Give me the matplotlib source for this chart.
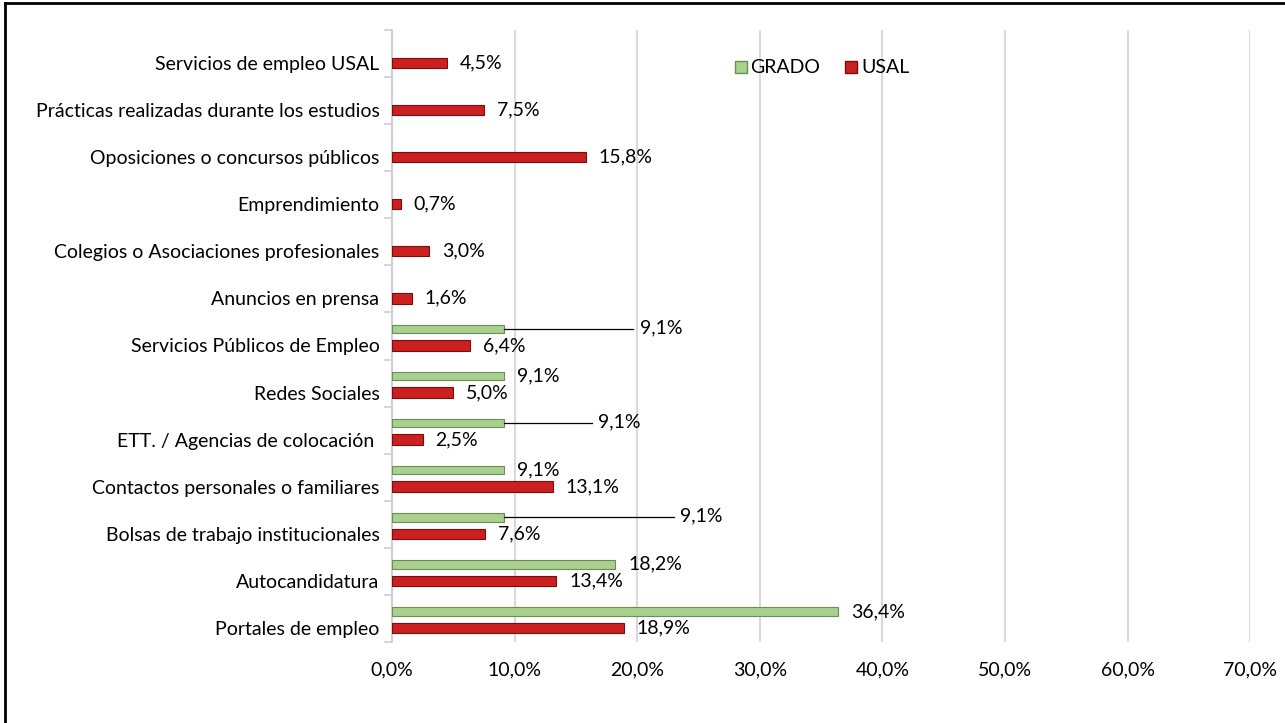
import matplotlib.pyplot as plt
import numpy as np
from matplotlib.lines import Line2D

plt.rcParams['font.family'] = ['Lato', 'DejaVu Sans']

categories = ["Servicios de empleo USAL", "Prácticas realizadas durante los estudios",
              "Oposiciones o concursos públicos", "Emprendimiento",
              "Colegios o Asociaciones profesionales", "Anuncios en prensa",
              "Servicios Públicos de Empleo", "Redes Sociales",
              "ETT. / Agencias de colocación ", "Contactos personales o familiares",
              "Bolsas de trabajo institucionales", "Autocandidatura", "Portales de empleo"]
usal = [4.5, 7.5, 15.8, 0.7, 3.0, 1.6, 6.4, 5.0, 2.5, 13.1, 7.6, 13.4, 18.9]
grado = [0, 0, 0, 0, 0, 0, 9.1, 9.1, 9.1, 9.1, 9.1, 18.2, 36.4]
xticks = [0, 10, 20, 30, 40, 50, 60, 70]

# label positions (in % units) for green labels that use a leader line
leader_x = {6: 20.2, 8: 16.8, 10: 23.5}

fig = plt.figure(figsize=(12.85, 7.23), dpi=100)
ax = fig.add_axes([0.305, 0.112, 0.668, 0.8465])

y = np.arange(len(categories))
y_g = y - 0.15
y_r = y + 0.2
ax.barh(y_r, usal, height=0.22, color='#cc2020', edgecolor='#7a0c0c', linewidth=0.8, zorder=3)
mask = np.array(grado) > 0
ax.barh(y_g[mask], np.array(grado)[mask], height=0.18, color='#a9d08e',
        edgecolor='#6a8f50', linewidth=0.8, zorder=3)

fs = 14
for i, v in enumerate(usal):
    ax.annotate(f"{v:.1f}".replace('.', ',') + '%', (v, y_r[i]), xytext=(13, 0),
                textcoords='offset pixels', va='center', ha='left', fontsize=fs)
for i, v in enumerate(grado):
    if v <= 0:
        continue
    lab = f"{v:.1f}".replace('.', ',') + '%'
    if i in leader_x:
        lx = leader_x[i]
        ax.plot([v, lx - 0.5], [y_g[i], y_g[i]], color='black', lw=0.9, zorder=4)
        ax.text(lx, y_g[i] - 0.03, lab, va='center', ha='left', fontsize=fs)
    else:
        ax.annotate(lab, (v, y_g[i]), xytext=(13, 0), textcoords='offset pixels',
                    va='center', ha='left', fontsize=fs)

ax.set_xlim(0, 70)
ax.set_ylim(len(categories) - 0.5, -0.5)
ax.set_xticks(xticks)
ax.set_xticklabels([f"{t:.1f}".replace('.', ',') + '%' for t in xticks], fontsize=fs)
ax.set_yticks(y_r)
ax.set_yticklabels(categories, fontsize=fs)
ax.set_yticks(np.arange(-0.5, len(categories), 1), minor=True)
ax.tick_params(axis='x', length=0, pad=14)
ax.tick_params(axis='y', which='major', length=0, pad=9)
ax.tick_params(axis='y', which='minor', length=6, color='#d0d0d0', width=1.2)
ax.grid(axis='x', color='#d9d9d9', linewidth=1.5, zorder=0)
for s in ['top', 'right', 'bottom']:
    ax.spines[s].set_visible(False)
ax.spines['left'].set_color('#d0d0d0')
ax.spines['left'].set_linewidth(1.5)

handles = [Line2D([], [], marker='s', color='none', markerfacecolor='#a9d08e',
                  markeredgecolor='#6a8f50', markersize=9),
           Line2D([], [], marker='s', color='none', markerfacecolor='#cc2020',
                  markeredgecolor='#7a0c0c', markersize=9)]
ax.legend(handles, ['GRADO', 'USAL'], loc='center', bbox_to_anchor=(0.5, 0.938), ncol=2,
          frameon=False, fontsize=fs, handlelength=0.8, handletextpad=0.1, columnspacing=1.2)

# outer frame (left and top edges visible)
fig.add_artist(Line2D([5 / 1285, 5 / 1285], [0, 1 - 3 / 723], color='black', lw=2,
                      transform=fig.transFigure))
fig.add_artist(Line2D([5 / 1285, 1], [1 - 3 / 723, 1 - 3 / 723], color='black', lw=2,
                      transform=fig.transFigure))

fig.savefig('out.png', dpi=100)
